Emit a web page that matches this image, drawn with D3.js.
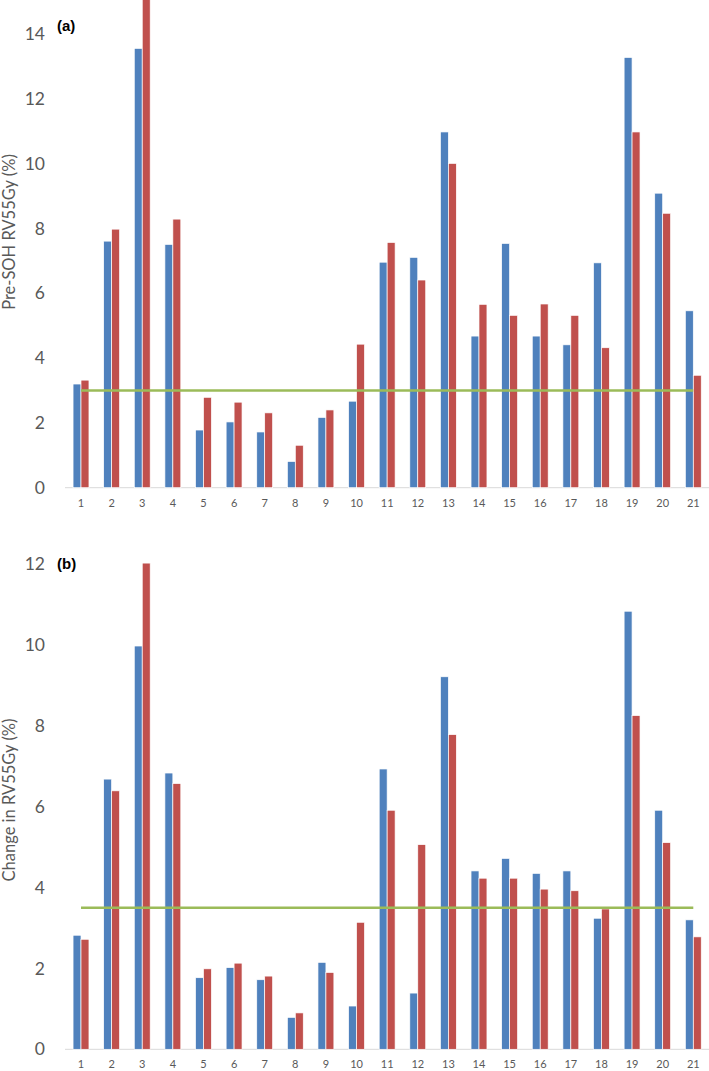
<!DOCTYPE html>
<html>
<head>
<meta charset="utf-8">
<script src="https://cdn.jsdelivr.net/npm/d3@7"></script>
<style>
  html, body { margin: 0; padding: 0; background: #fff; }
  svg { display: block; }
</style>
</head>
<body>
<svg id="chart" width="709" height="1071"></svg>
<script>
// ---- Data ----
const categories = ["1","2","3","4","5","6","7","8","9","10","11","12","13","14","15","16","17","18","19","20","21"];

// Panel (a): Pre-SOH RV55Gy (%)
const preBlue = [3.20, 7.61, 13.56, 7.51, 1.78, 2.03, 1.72, 0.81, 2.17, 2.67, 6.96, 7.11, 10.98, 4.68, 7.54, 4.68, 4.41, 6.94, 13.28, 9.09, 5.46];
const preRed  = [3.32, 7.98, 15.4, 8.29, 2.79, 2.64, 2.31, 1.31, 2.40, 4.43, 7.57, 6.41, 10.01, 5.66, 5.32, 5.67, 5.32, 4.32, 10.98, 8.47, 3.47];
const preThreshold = 3.0;
const preTicks = [0, 2, 4, 6, 8, 10, 12, 14];

// Panel (b): Change in RV55Gy (%)
const chgBlue = [2.82, 6.68, 9.97, 6.83, 1.77, 2.02, 1.72, 0.79, 2.15, 1.07, 6.93, 1.39, 9.21, 4.41, 4.72, 4.35, 4.41, 3.24, 10.83, 5.91, 3.20];
const chgRed  = [2.72, 6.39, 12.02, 6.57, 1.99, 2.13, 1.81, 0.90, 1.90, 3.14, 5.91, 5.06, 7.78, 4.23, 4.23, 3.96, 3.92, 3.47, 8.25, 5.11, 2.78];
const chgThreshold = 3.5;
const chgTicks = [0, 2, 4, 6, 8, 10, 12];

const seriesKeys = ["blue", "red"];
const colors = { blue: "#4f81bd", red: "#c0504d" };

// ---- Drawing ----
const svg = d3.select("#chart");
const tickColor = "#595959";
const font = "Lato, 'Open Sans', sans-serif";

function panel(opts) {
  const g = svg.append("g");
  const x0 = d3.scaleBand().domain(categories).range([65.7, 708.6]).paddingInner(0.48).paddingOuter(0.24);
  const x1 = d3.scaleBand().domain(seriesKeys).range([0, x0.bandwidth()]);
  const y = d3.scaleLinear().domain(opts.domain).range(opts.range);

  // axis line
  g.append("line")
    .attr("x1", 65).attr("x2", 709)
    .attr("y1", y(0)).attr("y2", y(0))
    .attr("stroke", "#d9d9d9").attr("stroke-width", 1);

  // y tick labels
  const yAxis = d3.axisLeft(y).tickValues(opts.ticks).tickSize(0).tickPadding(0).tickFormat(d3.format("d"));
  const ya = g.append("g").attr("transform", "translate(45,0)").call(yAxis);
  ya.select(".domain").remove();
  ya.selectAll("text").attr("fill", tickColor).attr("font-size", 17.5).attr("font-family", font);

  // x tick labels
  const xAxis = d3.axisBottom(x0).tickSize(0).tickPadding(0);
  const xa = g.append("g").attr("transform", `translate(0,${opts.xLabelY})`).call(xAxis);
  xa.select(".domain").remove();
  xa.selectAll("text").attr("fill", tickColor).attr("font-size", 11).attr("font-family", font);

  // bars
  const rows = categories.map((c, i) => ({ cat: c, blue: opts.blue[i], red: opts.red[i] }));
  const groups = g.append("g").selectAll("g").data(rows).join("g")
    .attr("transform", d => `translate(${x0(d.cat)},0)`);
  groups.selectAll("rect").data(d => seriesKeys.map(k => ({ key: k, value: d[k] }))).join("rect")
    .attr("x", d => x1(d.key))
    .attr("width", x1.bandwidth())
    .attr("y", d => y(d.value))
    .attr("height", d => y(0) - y(d.value))
    .attr("fill", d => colors[d.key])
    .attr("stroke", "#ffffff").attr("stroke-width", 0.7);

  // threshold line
  g.append("line")
    .attr("x1", x0(categories[0]) + x0.bandwidth() / 2)
    .attr("x2", x0(categories[categories.length - 1]) + x0.bandwidth() / 2)
    .attr("y1", y(opts.threshold)).attr("y2", y(opts.threshold))
    .attr("stroke", "#9bbb59").attr("stroke-width", 2.5);

  // axis title
  g.append("text")
    .attr("transform", `translate(15,${opts.titleY}) rotate(-90)`)
    .attr("text-anchor", "middle")
    .attr("fill", tickColor)
    .attr("font-size", 16.5)
    .attr("font-family", font)
    .text(opts.title);

  // panel label
  g.append("text")
    .attr("x", 57).attr("y", opts.labelY)
    .attr("font-family", "'Liberation Sans', Arial, sans-serif")
    .attr("font-weight", "bold")
    .attr("font-size", 15)
    .attr("fill", "#000")
    .text(opts.label);
}

panel({
  domain: [0, 15], range: [487.7, 1.7], ticks: preTicks,
  blue: preBlue, red: preRed, threshold: preThreshold,
  xLabelY: 499, title: "Pre-SOH RV55Gy (%)", titleY: 232,
  label: "(a)", labelY: 31
});

panel({
  domain: [0, 12], range: [1049.3, 563.9], ticks: chgTicks,
  blue: chgBlue, red: chgRed, threshold: chgThreshold,
  xLabelY: 1060, title: "Change in RV55Gy (%)", titleY: 800,
  label: "(b)", labelY: 569
});
</script>
</body>
</html>
